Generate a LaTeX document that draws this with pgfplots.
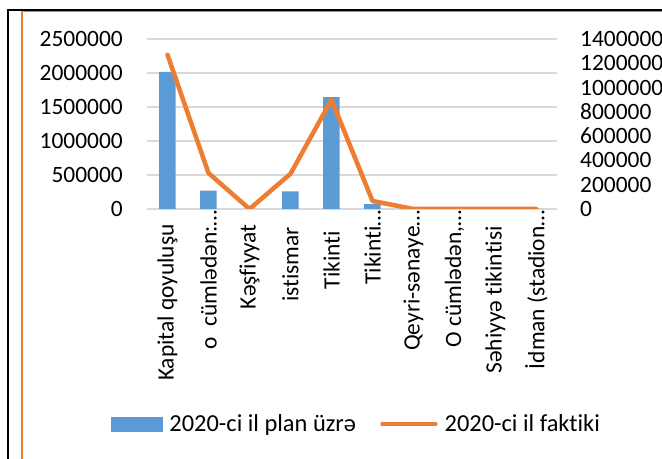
\documentclass[border=0pt]{standalone}
\usepackage{pgfplots}
\pgfplotsset{compat=1.18}
\usepackage{fontspec}
\setmainfont{Carlito}[Ligatures=NoCommon]
\definecolor{barblue}{HTML}{5B9BD5}
\definecolor{lineorange}{HTML}{ED7D31}
\definecolor{gridgray}{HTML}{D9D9D9}
\begin{document}
\begin{tikzpicture}
\useasboundingbox (0,0) rectangle (662bp,459bp);
\clip (0,0) rectangle (662bp,459bp);
% frame
\draw[black, line width=2bp] (8bp,0) -- (8bp,449bp) -- (662bp,449bp);
\draw[lineorange, line width=1.5bp] (22bp,0) -- (22bp,447.5bp) -- (662bp,447.5bp);
\pgfplotsset{
  every tick label/.append style={font=\fontsize{23.5}{28}\selectfont},
  /pgf/number format/.cd, fixed, precision=0, 1000 sep={}, assume math mode=true,
}
\begin{axis}[
  at={(147bp,250bp)}, anchor=south west,
  scale only axis, width=410bp, height=170bp,
  xmin=-0.5, xmax=9.5, ymin=0, ymax=2500000,
  ytick={0,500000,1000000,1500000,2000000,2500000},
  scaled y ticks=false,
  axis line style={draw=none},
  major tick length=0,
  ymajorgrids, grid style={gridgray, line width=1.2bp},
  yticklabel style={anchor=east, inner sep=0pt, xshift=-24bp},
  xtick={0,1,2,3,4,5,6,7,8,9},
  xticklabels={{Kapital qoyuluşu\hspace*{14bp}}, {o\ \ cümlədən:…}, {Kəşfiyyat\hspace*{14bp}}, {istismar\hspace*{17bp}}, {Tikinti\hspace*{21bp}}, {Tikinti…}, {Qeyri-sənaye…}, {O cümlədən,…}, {Səhiyyə tikintisi\hspace*{16bp}}, {İdman (stadion…}},
  xticklabel style={rotate=90, anchor=east, inner sep=1bp},
]
\addplot[ybar, bar width=16.5bp, fill=barblue, draw=none] coordinates {
  (0,2015000) (1,269000) (2,0) (3,260000) (4,1647000) (5,73000) (6,0) (7,0) (8,0) (9,0)
};
\end{axis}
\begin{axis}[
  at={(147bp,250bp)}, anchor=south west,
  scale only axis, width=410bp, height=170bp,
  xmin=-0.5, xmax=9.5, ymin=0, ymax=1400000,
  axis y line*=right, hide x axis,
  axis line style={draw=none},
  major tick length=0,
  scaled y ticks=false,
  ytick={0,200000,400000,600000,800000,1000000,1200000,1400000},
  yticklabel style={anchor=west, inner sep=0pt, xshift=23bp},
  legend style={at={(0.511,-1.265)}, anchor=center, draw=none, fill=none,
    font=\fontsize{24.5}{29}\selectfont, legend columns=2,
    /tikz/every odd column/.append style={column sep=5bp},
    /tikz/every even column/.append style={column sep=22bp},
    nodes={inner sep=2bp}},
  legend cell align=left,
]
\addlegendimage{legend image code/.code={\fill[barblue] (0bp,-7bp) rectangle (51bp,7bp);}}
\addlegendentry{2020-ci il plan üzrə}
\addplot[lineorange, line width=4.5bp, line join=round, line cap=round,
  legend image code/.code={\draw[lineorange, line width=4.5bp, line cap=round] (2bp,0bp) -- (55bp,0bp);}]
  coordinates {
  (0,1270000) (1,296000) (2,0) (3,290000) (4,900000) (5,66000) (6,0) (7,0) (8,0) (9,0)
};
\addlegendentry{2020-ci il faktiki}
\end{axis}
\end{tikzpicture}
\end{document}
